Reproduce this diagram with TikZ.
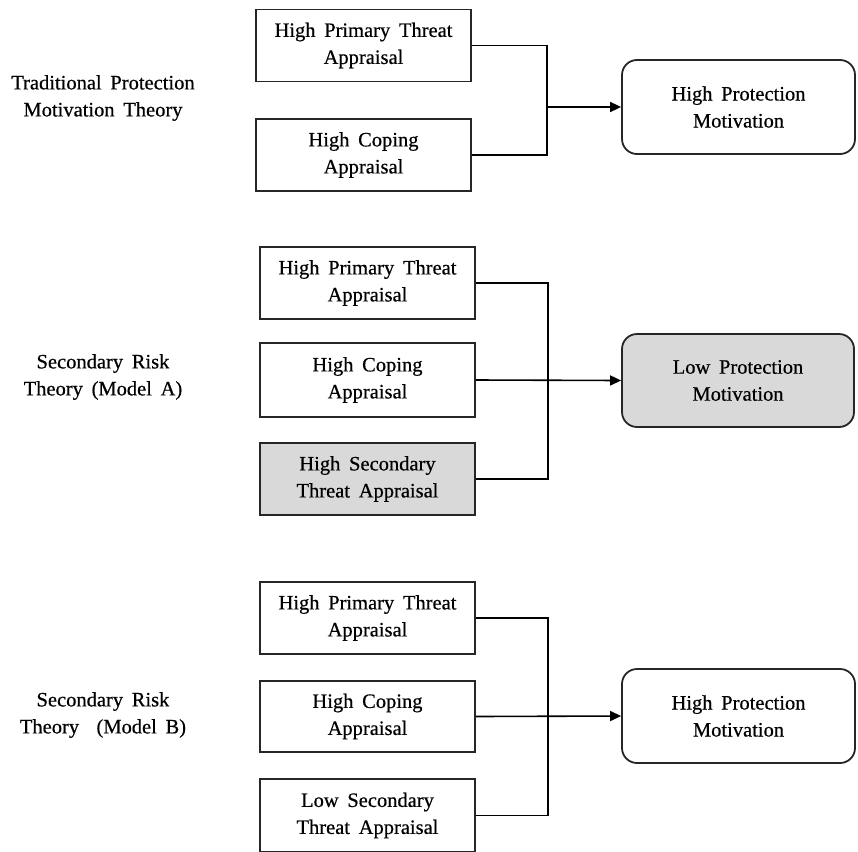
\documentclass[tikz,border=0pt]{standalone}
\usepackage{fontspec}
\setmainfont{Liberation Serif}[WordSpace=1.7, FakeBold=0.5]
\usetikzlibrary{arrows.meta}
\definecolor{boxgray}{HTML}{D9D9D9}
\begin{document}
\begin{tikzpicture}[x=1pt,y=-1pt,
  every node/.style={font=\fontsize{20.5}{27}\selectfont, text=black, align=center, inner sep=0pt},
  sqbox/.style={draw=black!85, line width=1.8pt, minimum width=215pt, minimum height=72pt},
  rbox/.style={draw=black!85, line width=1.8pt, rounded corners=15pt, minimum width=233pt, minimum height=94pt},
  shaded/.style={fill=boxgray},
  conn/.style={draw=black, line width=1.6pt},
  arr/.style={conn, -{Triangle[length=11pt,width=10pt]}}
]
\useasboundingbox (0,0) rectangle (858,851);

% labels
\node (LA) at (103,98) {Traditional Protection\\Motivation Theory};
\node (LB) at (103,377) {Secondary Risk\\Theory (Model A)};
\node (LC) at (103,715) {Secondary Risk\\Theory \ (Model B)};

% block A
\node[sqbox] (A1) at (363.5,45.5) {High Primary Threat\\Appraisal};
\node[sqbox] (A2) at (363.5,155) {High Coping\\Appraisal};
\node[rbox] (PA) at (738.5,107) {High Protection\\Motivation};
\coordinate (jA) at (547,107);
\draw[conn] (A1.east) -| (jA);
\draw[conn] (A2.east) -| (jA);
\draw[arr] (jA) -- (PA.west);

% block B
\node[sqbox] (B1) at (367.5,283) {High Primary Threat\\Appraisal};
\node[sqbox, minimum height=74pt] (B2) at (367.5,380) {High Coping\\Appraisal};
\node[sqbox, shaded] (B3) at (367.5,479) {High Secondary\\Threat Appraisal};
\node[rbox, shaded, minimum width=232pt, minimum height=93pt] (PB) at (738,380.5) {Low Protection\\Motivation};
\coordinate (jB) at (548,380);
\draw[conn] (B1.east) -| (jB);
\draw[conn] (B3.east) -| (jB);
\draw[arr] (B2.east) -- (PB.west);

% block C
\node[sqbox] (C1) at (367.5,618) {High Primary Threat\\Appraisal};
\node[sqbox, minimum height=71pt] (C2) at (367.5,716.5) {High Coping\\Appraisal};
\node[sqbox, minimum height=73pt] (C3) at (367.5,815.5) {Low Secondary\\Threat Appraisal};
\node[rbox] (PC) at (738.5,716) {High Protection\\Motivation};
\coordinate (jC) at (548,716);
\draw[conn] (C1.east) -| (jC);
\draw[conn] (C3.east) -| (jC);
\draw[arr] (C2.east) -- (PC.west);
\end{tikzpicture}
\end{document}
